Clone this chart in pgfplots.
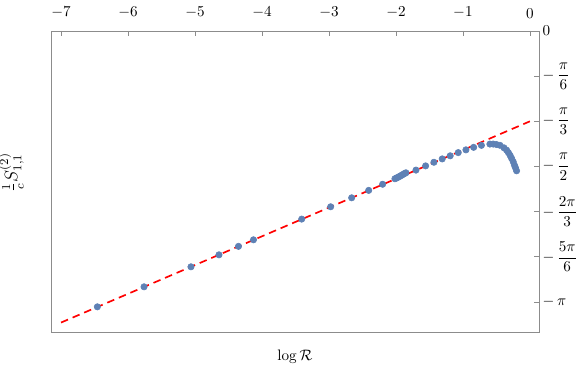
\documentclass[border=0pt]{standalone}
\usepackage{pgfplots}
\pgfplotsset{compat=1.18}
\definecolor{mblue}{rgb}{0.368,0.507,0.71}
\newcommand{\mf}[2]{\displaystyle-\,\frac{#1}{#2}}
\begin{document}
\begin{tikzpicture}
\begin{axis}[
  at={(0,0)}, anchor=south west,
  scale only axis, width=322pt, height=198.66pt,
  xmin=-7.15, xmax=0.134, ymin=-3.49, ymax=0,
  axis line style={draw=black!45},
  xtick={-7,-6,-5,-4,-3,-2,-1,0}, xtick pos=right, xticklabel pos=right,
  ytick={0,-0.5236,-1.0472,-1.5708,-2.0944,-2.6180,-3.1416},
  yticklabels={$0$,$\mf{\pi}{6}$,$\mf{\pi}{3}$,$\mf{\pi}{2}$,$\mf{2\pi}{3}$,$\mf{5\pi}{6}$,$-\,\pi$},
  ytick pos=right, yticklabel pos=right,
  tick align=inside, major tick length=3pt,
  tick style={draw=black!45, line width=0.4pt},
  xticklabel style={yshift=5pt},
  yticklabel style={xshift=-1pt},
  xlabel={$\log\mathcal{R}$},
  xlabel style={at={(axis description cs:0.5,-0.043)}, anchor=north},
  ylabel={$\frac{1}{c}S^{(2)}_{1,1}$},
  ylabel style={at={(axis description cs:-0.045,0.53)}, anchor=south, font=\large},
  clip=false,
]
\addplot[red, line width=1.1pt, dash pattern=on 5pt off 3.3pt] coordinates {(-7,-3.3805) (0,-1.0472)};
\addplot[only marks, mark=*, mark size=2.1pt, mark options={draw=mblue, fill=mblue}] coordinates {
(-6.458,-3.198) (-5.761,-2.966) (-5.060,-2.734) (-4.642,-2.595) (-4.351,-2.497) (-4.127,-2.421)
(-3.407,-2.181) (-2.975,-2.038) (-2.661,-1.934) (-2.407,-1.848) (-2.199,-1.777)
(-2.015,-1.713) (-1.993,-1.705) (-1.972,-1.697) (-1.951,-1.688) (-1.930,-1.679) (-1.910,-1.670) (-1.890,-1.661) (-1.870,-1.652) (-1.851,-1.644)
(-1.701,-1.613) (-1.557,-1.564) (-1.433,-1.522) (-1.309,-1.483) (-1.190,-1.447) (-1.070,-1.410)
(-0.955,-1.378) (-0.840,-1.349) (-0.724,-1.326) (-0.597,-1.311) (-0.548,-1.311) (-0.500,-1.316) (-0.448,-1.325)
(-0.388,-1.354) (-0.348,-1.381) (-0.321,-1.410) (-0.295,-1.443) (-0.273,-1.477) (-0.249,-1.516) (-0.231,-1.555) (-0.216,-1.584) (-0.199,-1.621)
};
\end{axis}
\pgfresetboundingbox
\path[use as bounding box] (-33.66pt,-25.08pt) rectangle (349.8pt,219.12pt);
\end{tikzpicture}
\end{document}
